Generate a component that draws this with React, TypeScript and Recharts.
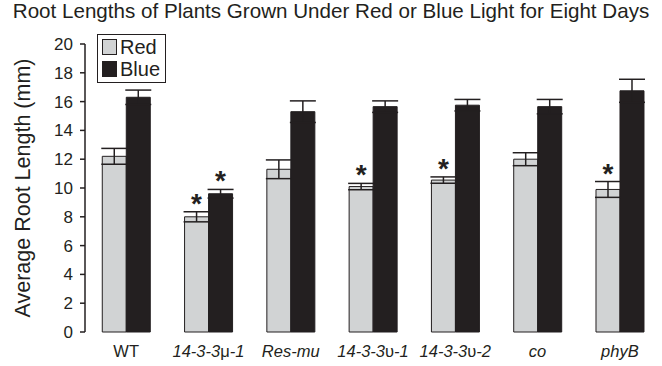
import React from 'react';
import {
  BarChart,
  Bar,
  XAxis,
  YAxis,
  ErrorBar,
  LabelList,
} from 'recharts';

const categories = ['WT', '14-3-3μ-1', 'Res-mu', '14-3-3υ-1', '14-3-3υ-2', 'co', 'phyB'];
const redValues = [12.2, 8.0, 11.3, 10.1, 10.55, 12.0, 9.9];
const redErrors = [0.55, 0.35, 0.65, 0.22, 0.22, 0.45, 0.55];
const blueValues = [16.3, 9.6, 15.3, 15.65, 15.75, 15.65, 16.75];
const blueErrors = [0.5, 0.3, 0.75, 0.4, 0.4, 0.5, 0.8];
// significance markers (*) per category
const redSignificant = [false, true, false, true, true, false, true];
const blueSignificant = [false, true, false, false, false, false, false];
const yTicks = [0, 2, 4, 6, 8, 10, 12, 14, 16, 18, 20];
const groupEdges = [0, 1, 2, 3, 4, 5, 6, 7];

const RED_FILL = '#d1d3d4';
const BLUE_FILL = '#231f20';
const INK = '#231f20';
const FONT = '"Liberation Sans", Arial, Helvetica, sans-serif';

const data = categories.map((name, i) => ({
  name,
  red: redValues[i],
  redErr: redErrors[i],
  blue: blueValues[i],
  blueErr: blueErrors[i],
}));

// splits a label so Greek letters stay upright inside italic text
const CategoryTick = (props: any) => {
  const { x, y, payload } = props;
  const label: string = payload.value;
  const upright = label === 'WT';
  const parts = label.split(/([μυ])/).filter(Boolean);
  return (
    <text
      x={x}
      y={y}
      dy={25}
      textAnchor="middle"
      fontSize={16.5}
      fontFamily={FONT}
      fill={INK}
      fontStyle={upright ? 'normal' : 'italic'}
    >
      {parts.map((p, i) => (
        <tspan key={i} fontStyle={/[μυ]/.test(p) ? 'normal' : undefined}>
          {p}
        </tspan>
      ))}
    </text>
  );
};

const makeStar = (values: number[], errors: number[], flags: boolean[]) => (props: any) => {
  const { index } = props;
  const vb = props.viewBox ?? props;
  if (!flags[index]) return null;
  const pxPerUnit = Math.abs(vb.height) / values[index];
  const errTop = vb.y - errors[index] * pxPerUnit;
  return (
    <text
      x={vb.x + vb.width / 2}
      y={errTop + 1}
      textAnchor="middle"
      fontSize={28}
      fontWeight="bold"
      fontFamily={FONT}
      fill={INK}
    >
      *
    </text>
  );
};

const legendItems = [
  { label: 'Red', fill: RED_FILL },
  { label: 'Blue', fill: BLUE_FILL },
];

const LegendBox = () => (
  <div
    style={{
      position: 'absolute',
      left: 97,
      top: 34,
      boxSizing: 'border-box',
      width: 69,
      height: 49,
      border: `1px solid ${INK}`,
      padding: '1px 4px',
      background: 'white',
      fontFamily: FONT,
      fontSize: 20,
      color: INK,
    }}
  >
    {legendItems.map((item) => (
      <div key={item.label} style={{ display: 'flex', alignItems: 'center', height: 22, gap: 3 }}>
        <span
          style={{
            boxSizing: 'border-box',
            width: 15,
            height: 16,
            background: item.fill,
            border: `1px solid ${INK}`,
            display: 'inline-block',
          }}
        />
        <span style={{ lineHeight: '22px' }}>{item.label}</span>
      </div>
    ))}
  </div>
);

export default function App() {
  return (
    <div style={{ position: 'absolute', left: 0, top: 0, width: 662, height: 366, background: 'white' }}>
      <div
        style={{
          position: 'absolute',
          left: 0,
          top: 0,
          width: 662,
          textAlign: 'center',
          fontFamily: FONT,
          fontSize: 20.6,
          lineHeight: '22px',
          color: INK,
          whiteSpace: 'nowrap',
        }}
      >
        Root Lengths of Plants Grown Under Red or Blue Light for Eight Days
      </div>
      <BarChart
        width={662}
        height={366}
        data={data}
        margin={{ top: 44, right: 1, left: 0, bottom: 0 }}
        barCategoryGap="21%"
        barGap={0}
      >
        {/* boundary tick marks between groups */}
        <XAxis
          xAxisId="edges"
          type="number"
          domain={[0, 7]}
          ticks={groupEdges}
          allowDataOverflow
          height={0}
          tick={false}
          tickSize={5}
          axisLine={{ stroke: INK, strokeWidth: 1.5 }}
          tickLine={{ stroke: INK, strokeWidth: 1.5 }}
        />
        <XAxis
          xAxisId="cat"
          dataKey="name"
          height={34}
          axisLine={false}
          tickLine={false}
          tickSize={0}
          tickMargin={0}
          interval={0}
          tick={<CategoryTick />}
        />
        <YAxis
          domain={[0, 20]}
          ticks={yTicks}
          width={85}
          tickSize={5}
          tickMargin={7}
          axisLine={{ stroke: INK, strokeWidth: 1.5 }}
          tickLine={{ stroke: INK, strokeWidth: 1.5 }}
          tick={{ fontSize: 17, fill: INK, fontFamily: FONT }}
          label={({ viewBox }: any) => (
            <text
              x={0}
              y={0}
              transform={`translate(23, ${viewBox.y + viewBox.height / 2}) rotate(-90)`}
              textAnchor="middle"
              dominantBaseline="central"
              fontSize={21.5}
              fontFamily={FONT}
              fill={INK}
            >
              Average Root Length (mm)
            </text>
          )}
        />
        <Bar
          xAxisId="cat"
          dataKey="red"
          name="Red"
          fill={RED_FILL}
          stroke={INK}
          strokeWidth={1}
          isAnimationActive={false}
        >
          <ErrorBar dataKey="redErr" width={13} stroke={INK} strokeWidth={1.5} />
          <LabelList dataKey="red" content={makeStar(redValues, redErrors, redSignificant)} />
        </Bar>
        <Bar
          xAxisId="cat"
          dataKey="blue"
          name="Blue"
          fill={BLUE_FILL}
          stroke={INK}
          strokeWidth={1}
          isAnimationActive={false}
        >
          <ErrorBar dataKey="blueErr" width={13} stroke={INK} strokeWidth={1.5} />
          <LabelList dataKey="blue" content={makeStar(blueValues, blueErrors, blueSignificant)} />
        </Bar>
      </BarChart>
      <LegendBox />
    </div>
  );
}
